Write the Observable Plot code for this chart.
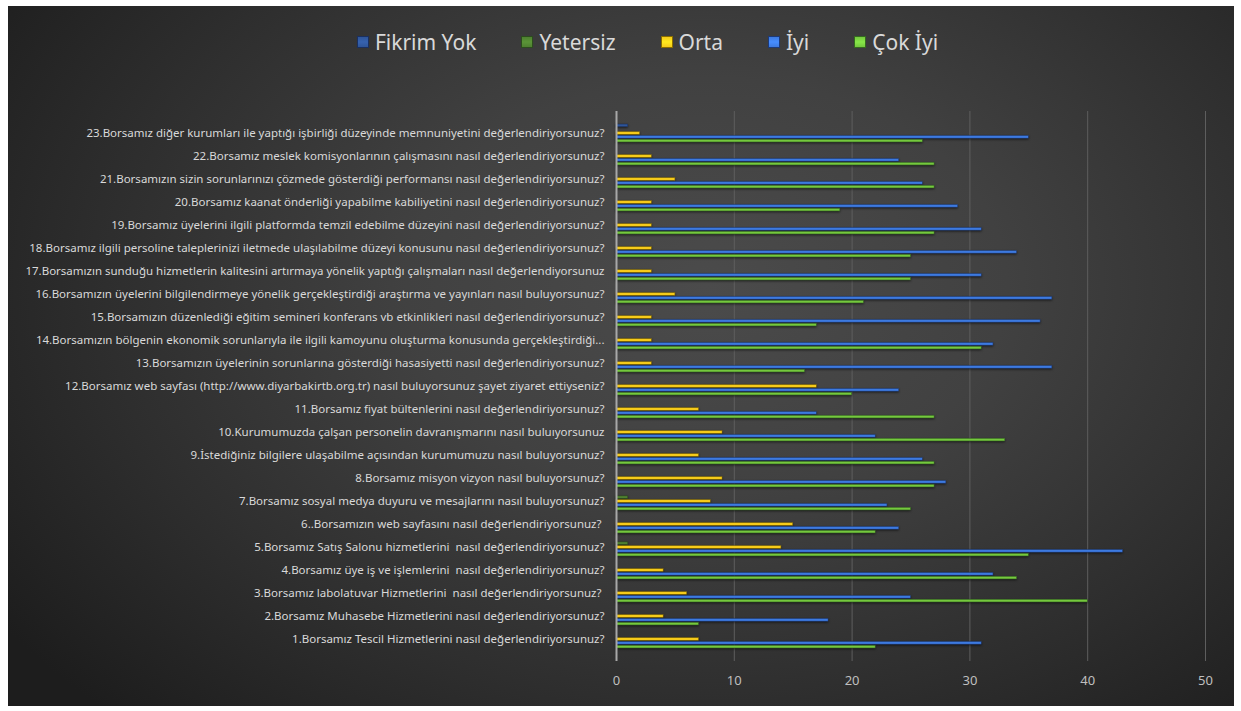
<!DOCTYPE html>
<html>
<head>
<meta charset="utf-8">
<script src="https://cdn.jsdelivr.net/npm/d3@7"></script>
<script src="https://cdn.jsdelivr.net/npm/@observablehq/plot@0.6"></script>
<style>
html, body { margin: 0; padding: 0; background: #ffffff; }
#chart {
  position: absolute; left: 8px; top: 6px; width: 1226px; height: 700px; overflow: hidden;
  background: radial-gradient(ellipse 70% 85% at 57% 40%, #4b4b4b 0%, #414141 35%, #2e2e2e 70%, #1d1d1d 100%);
  font-family: "Noto Sans", sans-serif;
}
#legend {
  height: 80px; display: flex; justify-content: center; align-items: center; gap: 45px;
  color: #d9d9d9; font-size: 21px; padding-bottom: 8px; box-sizing: border-box; padding-left: 53px;
}
.item { display: flex; align-items: center; gap: 6px; }
.sw { width: 12px; height: 12px; box-sizing: border-box; }
#plot svg { display: block; }
</style>
</head>
<body>
<div id="chart"><div id="legend"></div><div id="plot"></div></div>
<script>
const questions = [
  "1.Borsamız Tescil Hizmetlerini nasıl değerlendiriyorsunuz?",
  "2.Borsamız Muhasebe Hizmetlerini nasıl değerlendiriyorsunuz?",
  "3.Borsamız labolatuvar Hizmetlerini  nasıl değerlendiriyorsunuz? ",
  "4.Borsamız üye iş ve işlemlerini  nasıl değerlendiriyorsunuz?",
  "5.Borsamız Satış Salonu hizmetlerini  nasıl değerlendiriyorsunuz?",
  "6..Borsamızın web sayfasını nasıl değerlendiriyorsunuz? ",
  "7.Borsamız sosyal medya duyuru ve mesajlarını nasıl buluyorsunuz?",
  "8.Borsamız misyon vizyon nasıl buluyorsunuz?",
  "9.İstediğiniz bilgilere ulaşabilme açısından kurumumuzu nasıl buluyorsunuz?",
  "10.Kurumumuzda çalşan personelin davranışmarını nasıl buluıyorsunuz",
  "11.Borsamız fiyat bültenlerini nasıl değerlendiriyorsunuz?",
  "12.Borsamız web sayfası (http://www.diyarbakirtb.org.tr) nasıl buluyorsunuz şayet ziyaret ettiyseniz?",
  "13.Borsamızın üyelerinin sorunlarına gösterdiği hasasiyetti nasıl değerlendiriyorsunuz?",
  "14.Borsamızın bölgenin ekonomik sorunlarıyla ile ilgili kamoyunu oluşturma konusunda gerçekleştirdiği...",
  "15.Borsamızın düzenlediği eğitim semineri konferans vb etkinlikleri nasıl değerlendiriyorsunuz?",
  "16.Borsamızın üyelerini bilgilendirmeye yönelik gerçekleştirdiği araştırma ve yayınları nasıl buluyorsunuz?",
  "17.Borsamızın sunduğu hizmetlerin kalitesini artırmaya yönelik yaptığı çalışmaları nasıl değerlendiyorsunuz",
  "18.Borsamız ilgili persoline taleplerinizi iletmede ulaşılabilme düzeyi konusunu nasıl değerlendiriyorsunuz?",
  "19.Borsamız üyelerini ilgili platformda temzil edebilme düzeyini nasıl değerlendiriyorsunuz?",
  "20.Borsamız kaanat önderliği yapabilme kabiliyetini nasıl değerlendiriyorsunuz?",
  "21.Borsamızın sizin sorunlarınızı çözmede gösterdiği performansı nasıl değerlendiriyorsunuz?",
  "22.Borsamız meslek komisyonlarının çalışmasını nasıl değerlendiriyorsunuz?",
  "23.Borsamız diğer kurumları ile yaptığı işbirliği düzeyinde memnuniyetini değerlendiriyorsunuz?"
];
const seriesNames = ["Fikrim Yok", "Yetersiz", "Orta", "İyi", "Çok İyi"];
const fikrimYok = [0,0,0,0,0,0,0,0,0,0,0,0,0,0,0,0,0,0,0,0,0,0,1];
const yetersiz  = [0,0,0,0,1,0,1,0,0,0,0,0,0,0,0,0,0,0,0,0,0,0,0];
const orta      = [7,4,6,4,14,15,8,9,7,9,7,17,3,3,3,5,3,3,3,3,5,3,2];
const iyi       = [31,18,25,32,43,24,23,28,26,22,17,24,37,32,36,37,31,34,31,29,26,24,35];
const cokIyi    = [22,7,40,34,35,22,25,27,27,33,27,20,16,31,17,21,25,25,27,19,27,27,26];
const xTicks = [0, 10, 20, 30, 40, 50];

const seriesValues = [fikrimYok, yetersiz, orta, iyi, cokIyi];
const fills   = ["#2f5598", "#4e8030", "#f6cb1a", "#3d7ae0", "#75c83e"];
const strokes = ["#1a3060", "#2c4c1e", "#8a6e00", "#1d3a78", "#356a20"];

// legend
const legend = document.getElementById("legend");
seriesNames.forEach((s, i) => {
  const it = document.createElement("div"); it.className = "item";
  const sw = document.createElement("div"); sw.className = "sw";
  sw.style.background = `linear-gradient(180deg, ${fills[i]} 0%, ${d3.color(fills[i]).brighter(0.4)} 50%, ${fills[i]} 100%)`;
  sw.style.border = `1px solid ${strokes[i]}`;
  const tx = document.createElement("span"); tx.textContent = s;
  it.appendChild(sw); it.appendChild(tx); legend.appendChild(it);
});

const W = 1226, H = 620, mT = 25, mB = 45, mL = 608, mR = 29;
const n = questions.length;
const step = (H - mT - mB) / n;
const bw = step * 0.8;
const slot = bw / 5;

const barMarks = seriesNames.map((s, i) => {
  const data = questions.map((q, j) => ({q, s, v: seriesValues[i][j]})).filter(d => d.v > 0);
  return Plot.barX(data, {
    x: "v", y: "q", fill: fills[i], stroke: strokes[i], strokeWidth: 0.5,
    insetTop: i * slot + 0.05, insetBottom: (4 - i) * slot + 0.05
  });
});

const chart = Plot.plot({
  width: W, height: H, marginTop: mT, marginBottom: mB, marginLeft: mL, marginRight: mR,
  style: {background: "transparent", fontFamily: "'Noto Sans', sans-serif", color: "#d9d9d9"},
  x: {domain: [0, 50]},
  y: {domain: questions.slice().reverse(), paddingInner: 0.2, paddingOuter: 0.1},
  marks: [
    Plot.ruleX(xTicks.slice(1), {stroke: "#5e5e5e", strokeWidth: 1}),
    ...barMarks,
    Plot.ruleX([0], {stroke: "#a8a8a8", strokeWidth: 2}),
    Plot.axisX({ticks: xTicks, tickSize: 0, tickPadding: 14, fontSize: 13, fill: "#bfbfbf", label: null}),
    Plot.axisY({tickSize: 0, tickPadding: 12, fontSize: 11.5, fill: "#d9d9d9", label: null})
  ]
});
document.getElementById("plot").appendChild(chart);
chart.querySelectorAll('g[aria-label="bar"]').forEach(g => {
  g.style.filter = "drop-shadow(0.8px 1px 1px rgba(0,0,0,0.6))";
});
chart.querySelectorAll('g[aria-label="y-axis tick label"] text').forEach(t => t.style.whiteSpace = "pre");
</script>
</body>
</html>
